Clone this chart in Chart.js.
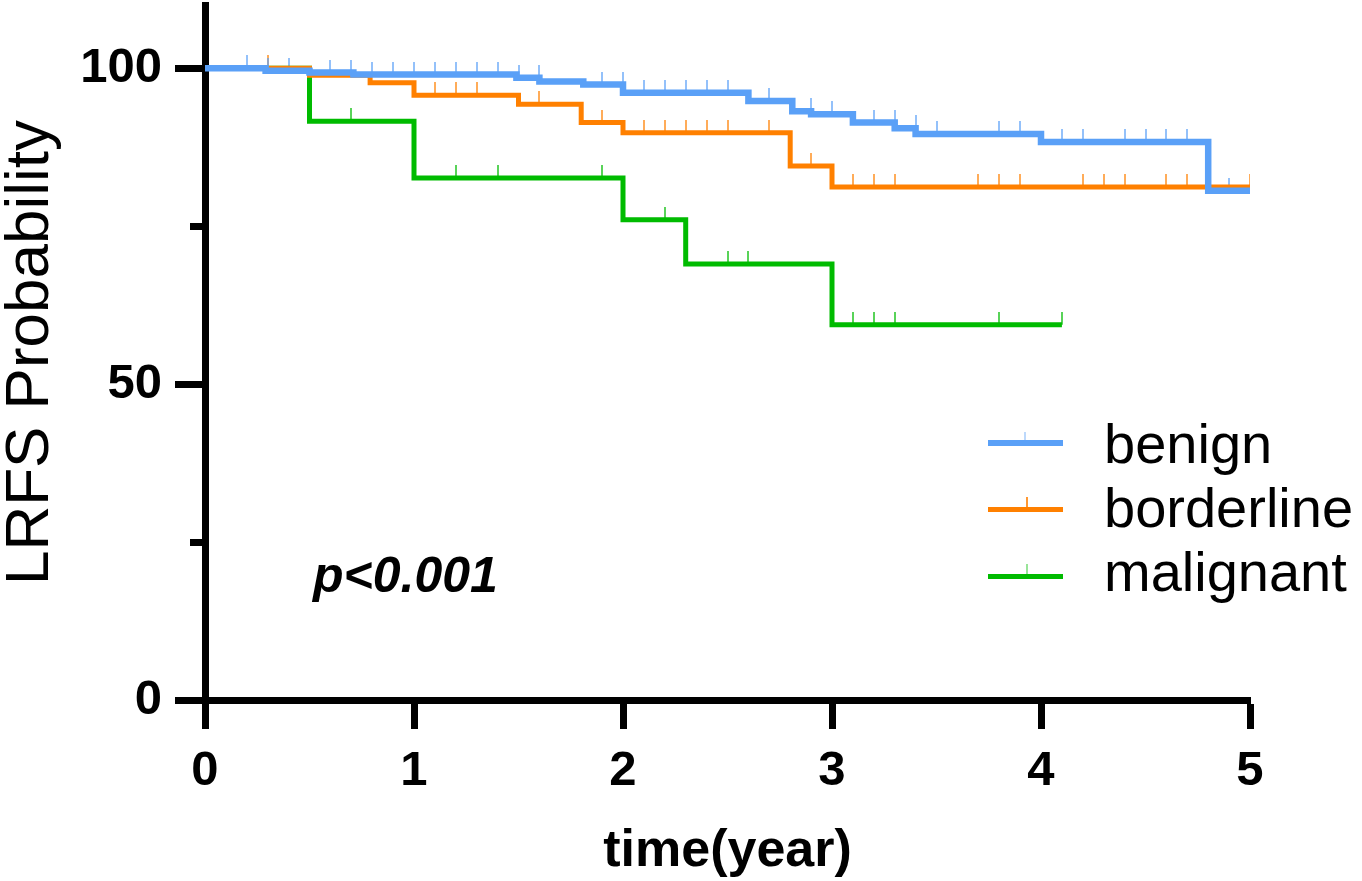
<!DOCTYPE html>
<html>
<head>
<meta charset="utf-8">
<script src="https://cdn.jsdelivr.net/npm/chart.js@4.4.1/dist/chart.umd.min.js"></script>
<style>
body { margin: 0; background: #fff; }
#wrap { position: relative; width: 1362px; height: 881px; font-family: "Liberation Sans", Arial, sans-serif; color: #000; }
#pval { position: absolute; left: 313px; top: 550px; font-size: 50px; line-height: 50px; font-style: italic; font-weight: bold; }
#legend { position: absolute; left: 1104px; top: 412px; font-size: 56px; line-height: 64px; white-space: nowrap; }
.swatch { position: absolute; left: 988px; width: 75px; }
.cmark { position: absolute; width: 2px; }
</style>
</head>
<body>
<div id="wrap">
  <canvas id="km" width="1362" height="881"></canvas>
  <div id="pval">p&lt;0.001</div>
  <div class="swatch" style="top:440px;height:6px;background:#5aa0f7"></div>
  <div class="cmark" style="left:1024px;top:432px;height:9px;background:rgba(90,160,247,0.4)"></div>
  <div class="swatch" style="top:507px;height:5px;background:#ff8000"></div>
  <div class="cmark" style="left:1026px;top:497px;height:11px;background:rgba(255,128,0,0.8)"></div>
  <div class="swatch" style="top:574px;height:5px;background:#00bb00"></div>
  <div class="cmark" style="left:1026px;top:564px;height:10px;background:rgba(0,187,0,0.4)"></div>
  <div id="legend">benign<br>borderline<br>malignant</div>
</div>
<script>
// step points: time where the curve drops, and the value after the drop
const benignT = [0, 0.29, 0.5, 0.71, 1.49, 1.6, 1.81, 2.0, 2.6, 2.81, 2.9, 3.1, 3.3, 3.4, 4.0, 4.8, 5.0];
const benignS = [100, 99.6, 99.3, 99.0, 98.5, 97.9, 97.4, 96.1, 94.8, 93.2, 92.7, 91.4, 90.5, 89.6, 88.3, 80.6, 80.6];
const borderT = [0, 0.5, 0.79, 1.0, 1.5, 1.8, 2.0, 2.8, 3.0, 5.0];
const borderS = [100, 98.9, 97.7, 95.7, 94.3, 91.4, 89.8, 84.5, 81.2, 81.2];
const malT = [0, 0.5, 1.0, 2.0, 2.3, 3.0, 4.1];
const malS = [100, 91.6, 82.6, 76.0, 69.0, 59.4, 59.4];

// censored times
const benignCens = [0.2, 0.3, 0.4, 0.6, 0.7, 0.8, 0.9, 1.0, 1.1, 1.2, 1.3, 1.4, 1.5, 1.6, 1.9, 2.0, 2.1, 2.2, 2.3, 2.4, 2.5, 2.7, 2.9, 3.0, 3.2, 3.3, 3.4, 3.5, 3.8, 3.9, 4.1, 4.2, 4.4, 4.5, 4.6, 4.7, 4.9];
const borderCens = [0.3, 1.1, 1.2, 1.3, 1.6, 1.9, 2.1, 2.2, 2.3, 2.4, 2.5, 2.7, 2.9, 3.1, 3.2, 3.3, 3.7, 3.8, 3.9, 4.2, 4.3, 4.4, 4.6, 4.7, 5.0];
const malCens = [0.7, 1.2, 1.4, 1.9, 2.2, 2.5, 2.6, 3.1, 3.2, 3.3, 3.8, 4.1];

const xTicks = [0, 1, 2, 3, 4, 5];
const yTicks = [0, 50, 100];
const yMinorTicks = [25, 75];

const FAMILY = '"Liberation Sans", Arial, sans-serif';
const BLUE = '#5aa0f7', ORANGE = '#ff8000', GREEN = '#00bb00';

function curve(ts, ss) {
    return ts.map((t, i) => ({x: t, y: ss[i]}));
}

// value of the curve just before time t
function survAt(ts, ss, t) {
    let v = ss[0];
    for (let i = 0; i < ts.length; i++) {
        if (ts[i] < t) v = ss[i];
    }
    return v;
}

function censPoints(cens, ts, ss) {
    return cens.map(t => ({x: t, y: survAt(ts, ss, t)}));
}

// small vertical mark sitting on top of the line
function tickMark(color) {
    const c = document.createElement('canvas');
    c.width = 2;
    c.height = 26;
    const g = c.getContext('2d');
    g.fillStyle = color;
    g.fillRect(0, 0, 2, 13);
    return c;
}

function stepLine(label, data, color, width) {
    return {
        label: label,
        data: data,
        borderColor: color,
        borderWidth: width,
        stepped: true,
        pointRadius: 0,
        fill: false,
        tension: 0,
        borderCapStyle: 'butt',
        borderJoinStyle: 'miter'
    };
}

function censSet(label, data, color) {
    return {
        label: label,
        data: data,
        showLine: false,
        pointStyle: tickMark(color),
        pointRadius: 3
    };
}

const ctx = document.getElementById('km').getContext('2d');
new Chart(ctx, {
    type: 'line',
    data: {
        datasets: [
            stepLine('benign', curve(benignT, benignS), BLUE, 6.5),
            stepLine('borderline', curve(borderT, borderS), ORANGE, 5),
            stepLine('malignant', curve(malT, malS), GREEN, 5),
            censSet('benign censored', censPoints(benignCens, benignT, benignS), 'rgba(90,160,247,0.65)'),
            censSet('borderline censored', censPoints(borderCens, borderT, borderS), 'rgba(255,128,0,0.65)'),
            censSet('malignant censored', censPoints(malCens, malT, malS), 'rgba(0,187,0,0.65)')
        ]
    },
    options: {
        responsive: false,
        animation: false,
        events: [],
        layout: { padding: { left: 0, top: 4, right: 112, bottom: 0 } },
        plugins: { legend: { display: false }, tooltip: { enabled: false } },
        scales: {
            x: {
                type: 'linear',
                min: 0,
                max: 5,
                afterBuildTicks: s => { s.ticks = xTicks.map(v => ({value: v})); },
                afterFit: s => { s.height = 181; s.paddingLeft = 0; s.paddingRight = 0; },
                border: { display: true, color: '#000', width: 7 },
                grid: { drawOnChartArea: false, tickLength: 29, tickWidth: 7, tickColor: '#000' },
                ticks: { color: '#000', padding: 13, maxRotation: 0, font: { family: FAMILY, size: 49, weight: 'bold' } },
                title: {
                    display: true, text: 'time(year)', color: '#000',
                    font: { family: FAMILY, size: 52, weight: 'bold', lineHeight: 1 },
                    padding: { top: 0, bottom: 3 }
                }
            },
            y: {
                type: 'linear',
                position: 'left',
                weight: 1,
                min: 0,
                max: 110,
                afterBuildTicks: s => { s.ticks = yTicks.map(v => ({value: v})); },
                afterFit: s => { s.width = 205; s.paddingTop = 0; s.paddingBottom = 0; },
                border: { display: true, color: '#000', width: 7 },
                grid: { drawOnChartArea: false, tickLength: 30, tickWidth: 7, tickColor: '#000' },
                ticks: { color: '#000', padding: 13, font: { family: FAMILY, size: 49, weight: 'bold' } },
                title: {
                    display: true, text: 'LRFS Probability', color: '#000',
                    font: { family: FAMILY, size: 62, weight: 'normal', lineHeight: 1 },
                    padding: { top: 0, bottom: 0 }
                }
            },
            yMinor: {
                type: 'linear',
                position: 'left',
                weight: 0,
                min: 0,
                max: 110,
                afterBuildTicks: s => { s.ticks = yMinorTicks.map(v => ({value: v})); },
                afterFit: s => { s.width = 0; s.paddingTop = 0; s.paddingBottom = 0; },
                border: { display: false },
                grid: { drawOnChartArea: false, tickLength: 15, tickWidth: 7, tickColor: '#000' },
                ticks: { display: false }
            }
        }
    }
});
</script>
</body>
</html>
